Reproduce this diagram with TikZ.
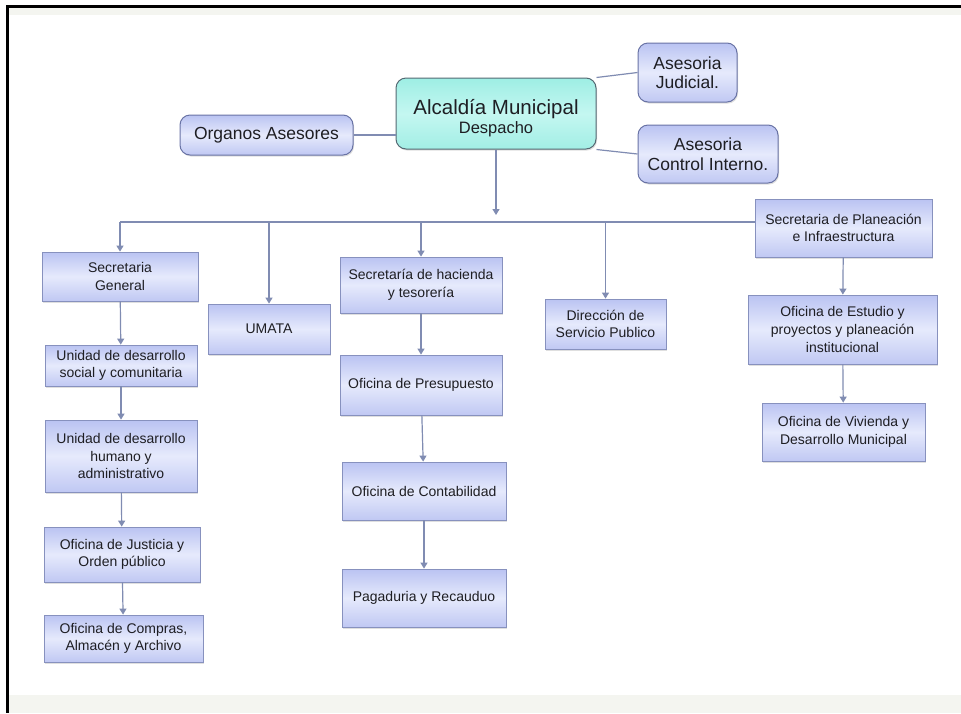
\documentclass[tikz,border=0pt]{standalone}
\usepackage{fontspec}
\setmainfont{Liberation Sans}
\usetikzlibrary{arrows.meta,shadows}
\definecolor{lavtop}{RGB}{186,195,242}
\definecolor{lavmid}{RGB}{230,234,252}
\definecolor{lavbot}{RGB}{192,200,243}
\definecolor{lavborder}{RGB}{135,145,190}
\definecolor{aqtop}{RGB}{158,238,228}
\definecolor{aqmid}{RGB}{196,247,241}
\definecolor{aqbot}{RGB}{162,238,229}
\definecolor{aqborder}{RGB}{85,105,115}
\definecolor{connc}{RGB}{128,140,178}
\definecolor{bandc}{RGB}{244,245,240}
\definecolor{txt}{RGB}{30,30,35}
\tikzset{
  box/.style={rectangle, draw=lavborder, line width=0.8pt, top color=lavtop, bottom color=lavbot, middle color=lavmid,
    align=center, inner sep=0pt, text=txt, font=\fontsize{14}{17.7}\selectfont,
    drop shadow={opacity=0.25, shadow xshift=1pt, shadow yshift=-1.5pt}},
  rbox/.style={box, rounded corners=10pt, draw={rgb,255:red,105;green,115;blue,165}, line width=1pt,
    font=\fontsize{17.5}{19.5}\selectfont},
  abox/.style={rbox, draw=aqborder, top color=aqtop, bottom color=aqbot, middle color=aqmid},
  conn/.style={draw=connc, line width=1.2pt},
  arr/.style={conn, -{Triangle[width=7pt,length=6pt]}}
}
\begin{document}
\begin{tikzpicture}[x=1pt,y=-1pt]
\useasboundingbox (0,0) rectangle (961,713);
% frame and bands
\fill[white] (0,0) rectangle (961,713);
\fill[bandc] (9,8) rectangle (961,15);
\fill[bandc] (9,695) rectangle (961,713);
\fill[black] (6,5) rectangle (961,8);
\fill[black] (6,5) rectangle (9,713);

% top level
\node[abox, minimum width=200pt, minimum height=71pt] (alc) at (496,113.5)
  {{\fontsize{20.5}{24}\selectfont\rule{0pt}{24pt}Alcaldía Municipal}\\[0pt]{\fontsize{16.5}{18}\selectfont Despacho}};
\node[rbox, minimum width=173pt, minimum height=40pt] (org) at (266.5,135) {Organos Asesores};
\node[rbox, minimum width=99pt, minimum height=59pt] (jud) at (687.5,72.5) {Asesoria\\Judicial.};
\node[rbox, minimum width=140pt, minimum height=58pt] (ctl) at (708,154) {Asesoria\\Control Interno.};

% second level
\node[box, minimum width=156pt, minimum height=49pt] (sg) at (120,276.5) {Secretaria\\General};
\node[box, minimum width=122pt, minimum height=50pt] (umata) at (269,329) {UMATA};
\node[box, minimum width=162pt, minimum height=56pt] (hac) at (421,285) {Secretaría de hacienda\\y tesorería};
\node[box, minimum width=121pt, minimum height=50pt] (dir) at (605.5,324) {Dirección de\\Servicio Publico};
\node[box, minimum width=177pt, minimum height=58pt] (plan) at (843.5,228) {Secretaria de Planeación\\e Infraestructura};

% left column
\node[box, minimum width=152pt, minimum height=41pt] (soc) at (121,365.5) {Unidad de desarrollo\\social y comunitaria};
\node[box, minimum width=152pt, minimum height=72pt] (hum) at (121,456) {Unidad de desarrollo\\humano y\\administrativo};
\node[box, minimum width=156pt, minimum height=55pt] (jus) at (122,554.5) {Oficina de Justicia y\\Orden público};
\node[box, minimum width=159pt, minimum height=47pt] (comp) at (123.5,638.5) {Oficina de Compras,\\Almacén y Archivo};

% middle column
\node[box, minimum width=162pt, minimum height=60pt] (pres) at (421,385) {Oficina de Presupuesto};
\node[box, minimum width=164pt, minimum height=58pt] (cont) at (424,491) {Oficina de Contabilidad};
\node[box, minimum width=164pt, minimum height=58pt] (pag) at (424,598) {Pagaduria y Recauduo};

% right column
\node[box, minimum width=189pt, minimum height=69pt] (est) at (842.5,329.5) {Oficina de Estudio y\\proyectos y planeación\\institucional};
\node[box, minimum width=163pt, minimum height=58pt] (viv) at (843.5,432) {Oficina de Vivienda y\\Desarrollo Municipal};

% connectors
\coordinate (hl) at (120,222);
\draw[conn] (org.east) -- (org.east -| alc.west);
\draw[conn] (alc.north east) -- (jud.west);
\draw[conn] (alc.south east) -- (ctl.west);
\draw[arr, shorten >=7pt] (alc) -- (alc |- hl);
\draw[conn] (hl) -- (hl -| plan.west);
\draw[arr] (hl) -- (sg);
\draw[arr] (hl -| umata) -- (umata);
\draw[arr] (hl -| hac) -- (hac);
\draw[arr] (hl -| dir) -- (dir);
\draw[arr] (sg) -- (soc);
\draw[arr] (soc) -- (hum);
\draw[arr] (hum) -- (jus);
\draw[arr] (jus) -- (comp);
\draw[arr] (hac) -- (pres);
\draw[arr] (pres) -- (cont);
\draw[arr] (cont) -- (pag);
\draw[arr] (plan) -- (est);
\draw[arr] (est) -- (viv);
\end{tikzpicture}
\end{document}
